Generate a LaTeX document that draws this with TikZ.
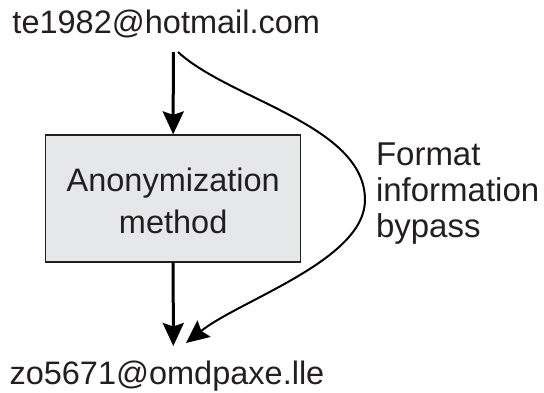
\documentclass[tikz,border=0pt]{standalone}
\usepackage{fontspec}
\setmainfont{Liberation Sans}
\usetikzlibrary{arrows.meta}
\definecolor{ink}{HTML}{231F20}
\definecolor{boxgray}{HTML}{E6E7E8}
\tikzset{
  txt/.style={inner sep=0pt, outer sep=0pt, text=ink,
    font=\fontsize{32.5}{41.7}\selectfont},
  procbox/.style={draw=ink, line width=1.2pt, fill=boxgray,
    minimum width=255pt, minimum height=127pt, inner sep=0pt},
  flow/.style={line width=3pt, draw=black,
    -{Stealth[length=23pt, width=21pt, inset=3.5pt]}},
  bypassline/.style={line width=2pt, draw=black,
    -{Stealth[length=23pt, width=21pt, inset=3.5pt]}},
}
\begin{document}
\begin{tikzpicture}[x=1pt, y=-1pt]
  \useasboundingbox (0,0) rectangle (544,392);

  % input and output addresses
  \node[txt, anchor=base west] (src) at (12.5,33.3) {te1982@hotmail.com};
  \node[txt, anchor=base west] (dst) at (9.5,384) {zo5671@omdpaxe.lle};

  % anonymization step
  \node[procbox] (box) at (173.2,198.5) {};
  \node[txt, align=center] (boxtext) at (173.2,200.9) {Anonymization\\method};

  % bypass label
  \node[txt, align=left, anchor=north west,
        font=\fontsize{33}{36}\selectfont] (note) at (376,143) {Format\\information\\bypass};

  % connector end points
  \coordinate (srcfoot) at (173.3,52);
  \coordinate (srcside) at (178,52);
  \coordinate (dsttop) at (173.3,346);
  \coordinate (dstside) at (186,343);

  % main flow
  \draw[flow] (srcfoot) -- (box.north);
  \draw[flow] (box.south) -- (dsttop);

  % bypass around the method
  \draw[bypassline] (srcside) .. controls (230,100) and (365,125) .. (365,200)
                    .. controls (365,260) and (240,300) .. (dstside);
\end{tikzpicture}
\end{document}
